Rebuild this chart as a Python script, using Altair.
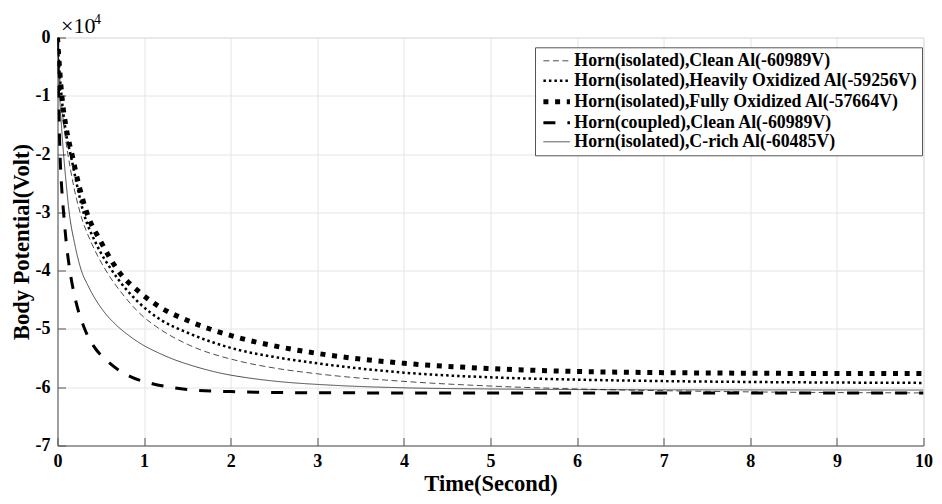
import altair as alt
import pandas as pd

names = [
    "Horn(isolated),Clean Al(-60989V)",
    "Horn(isolated),Heavily Oxidized Al(-59256V)",
    "Horn(isolated),Fully Oxidized Al(-57664V)",
    "Horn(coupled),Clean Al(-60989V)",
    "Horn(isolated),C-rich Al(-60485V)",
]

# values in units of 1e4 V
t_clean = [0, 0.02, 0.04, 0.08, 0.12, 0.18, 0.26, 0.4, 0.56, 0.75, 0.94, 1.2, 1.51, 2.09, 2.5, 3, 4, 5, 6, 7, 8, 10]
v_clean = [0, -0.55, -1.0, -1.6, -2.0, -2.5, -3.0, -3.55, -4.0, -4.40, -4.72, -5.02, -5.27, -5.55, -5.67, -5.77, -5.90, -5.98, -6.03, -6.06, -6.08, -6.098]

t_heavy = [0, 0.02, 0.05, 0.1, 0.15, 0.3, 0.45, 0.63, 0.94, 1.2, 1.51, 2.09, 2.5, 3, 4, 5, 6, 7, 8, 10]
v_heavy = [0, -0.5, -1.05, -1.65, -2.0, -3.0, -3.55, -4.0, -4.55, -4.85, -5.07, -5.36, -5.48, -5.59, -5.75, -5.83, -5.87, -5.895, -5.91, -5.926]

t_full = [0, 0.02, 0.05, 0.1, 0.166, 0.25, 0.337, 0.5, 0.7, 0.94, 1.2, 1.51, 2.09, 2.5, 3, 4, 5, 6, 7, 8, 9, 10]
v_full = [0, -0.45, -1.0, -1.55, -2.0, -2.55, -3.0, -3.5, -4.0, -4.36, -4.64, -4.86, -5.15, -5.29, -5.42, -5.59, -5.68, -5.73, -5.75, -5.76, -5.765, -5.766]

t_coupled = [0, 0.005, 0.012, 0.02, 0.029, 0.045, 0.07, 0.1, 0.143, 0.2, 0.314, 0.42, 0.56, 0.7, 0.83, 1.095, 1.3, 1.59, 2, 2.47, 3, 4, 6, 10]
v_coupled = [0, -0.45, -1.0, -1.5, -2.0, -2.5, -3.0, -3.5, -4.0, -4.45, -5.0, -5.3, -5.53, -5.70, -5.81, -5.94, -6.0, -6.05, -6.075, -6.09, -6.095, -6.098, -6.099, -6.099]

t_crich = [0, 0.01, 0.025, 0.045, 0.07, 0.1, 0.135, 0.2, 0.276, 0.35, 0.45, 0.55, 0.676, 0.83, 0.98, 1.15, 1.32, 1.6, 1.857, 2.2, 2.47, 3.23, 4, 5, 6, 8, 10]
v_crich = [0, -0.45, -1.0, -1.5, -2.0, -2.5, -3.0, -3.55, -4.0, -4.25, -4.52, -4.73, -4.93, -5.12, -5.27, -5.40, -5.51, -5.65, -5.75, -5.84, -5.89, -5.97, -6.01, -6.03, -6.04, -6.046, -6.0485]

series_t = [t_clean, t_heavy, t_full, t_coupled, t_crich]
series_v = [v_clean, v_heavy, v_full, v_coupled, v_crich]

x_ticks = list(range(0, 11))
y_ticks = list(range(-7, 1))

dashes = [[6, 3.5], [2.5, 3], [5, 6.7], [12, 12], [1, 0]]
widths = [0.7, 2.5, 5, 3, 0.7]

rows = []
for name, ts, vs in zip(names, series_t, series_v):
    for t, v in zip(ts, vs):
        rows.append({"t": t, "v": v, "series": name})
df = pd.DataFrame(rows)

FONT = "Liberation Serif"

legend = alt.Legend(
    title=None, orient="none", legendX=477.5, legendY=9.8,
    symbolType="M-1.6,0H1.35", symbolSize=324, symbolStrokeColor="black",
    symbolFillColor="transparent", symbolOffset=7.3,
    labelFont=FONT, labelFontWeight="bold", labelFontSize=17.8, labelColor="black",
    labelLimit=0, strokeColor="#555", fillColor="white", padding=4,
    rowPadding=0, labelOffset=5, cornerRadius=0,
)

axis_common = dict(
    grid=True, gridColor="#e4e4e4", domainColor="#555", ticks=False,
    labelFont=FONT, labelFontWeight="bold", labelFontSize=18, labelColor="black",
    titleFont=FONT, titleFontWeight="bold", titleFontSize=22.5, titleColor="black",
)

xscale = alt.Scale(domain=[0, 10], nice=False)
yscale = alt.Scale(domain=[-7, 0], nice=False)

lines = alt.Chart(df).mark_line(color="black", interpolate="monotone", clip=True).encode(
    x=alt.X("t:Q", scale=xscale,
            axis=alt.Axis(values=x_ticks, labelPadding=7, titlePadding=2,
                          labelFlush=False, **axis_common),
            title="Time(Second)"),
    y=alt.Y("v:Q", scale=yscale,
            axis=alt.Axis(values=y_ticks, labelPadding=7.5, titlePadding=2,
                          labelExpr="'' + datum.value", labelFlush=False, **axis_common),
            title="Body Potential(Volt)"),
    strokeDash=alt.StrokeDash("series:N", scale=alt.Scale(domain=names, range=dashes), legend=legend),
    strokeWidth=alt.StrokeWidth("series:N", scale=alt.Scale(type="ordinal", domain=names, range=widths), legend=legend),
    detail="series:N",
)

# inward tick marks (drawn by a second, label-less axis pair shifted inside)
tick_axis = dict(ticks=True, tickSize=8, tickColor="#555", labels=False, domain=False,
                 grid=False, title=None)
inner_ticks = alt.Chart(df).mark_point(opacity=0).encode(
    x=alt.X("t:Q", scale=xscale, axis=alt.Axis(orient="bottom", offset=-8, values=x_ticks, **tick_axis)),
    y=alt.Y("v:Q", scale=yscale, axis=alt.Axis(orient="left", offset=-8, values=y_ticks, **tick_axis)),
)

exp_main = alt.Chart(pd.DataFrame({"s": ["×10"]})).mark_text(
    font=FONT, fontSize=22, align="left", baseline="alphabetic", color="black"
).encode(text="s:N", x=alt.value(3.5), y=alt.value(-4.5))

exp_sup = alt.Chart(pd.DataFrame({"s": ["4"]})).mark_text(
    font=FONT, fontSize=14, align="left", baseline="alphabetic", color="black"
).encode(text="s:N", x=alt.value(36.5), y=alt.value(-13.5))

chart = alt.layer(lines, inner_ticks, exp_main, exp_sup).resolve_axis(
    x="independent", y="independent"
).properties(
    width=866, height=408,
    autosize=alt.AutoSizeParams(type="none"),
    padding={"left": 49.5, "top": 29.5, "right": 10.5, "bottom": 50.5},
).configure_view(stroke=None).configure(background="white")

chart.save("out.html", embed_options={"renderer": "svg", "actions": False})
